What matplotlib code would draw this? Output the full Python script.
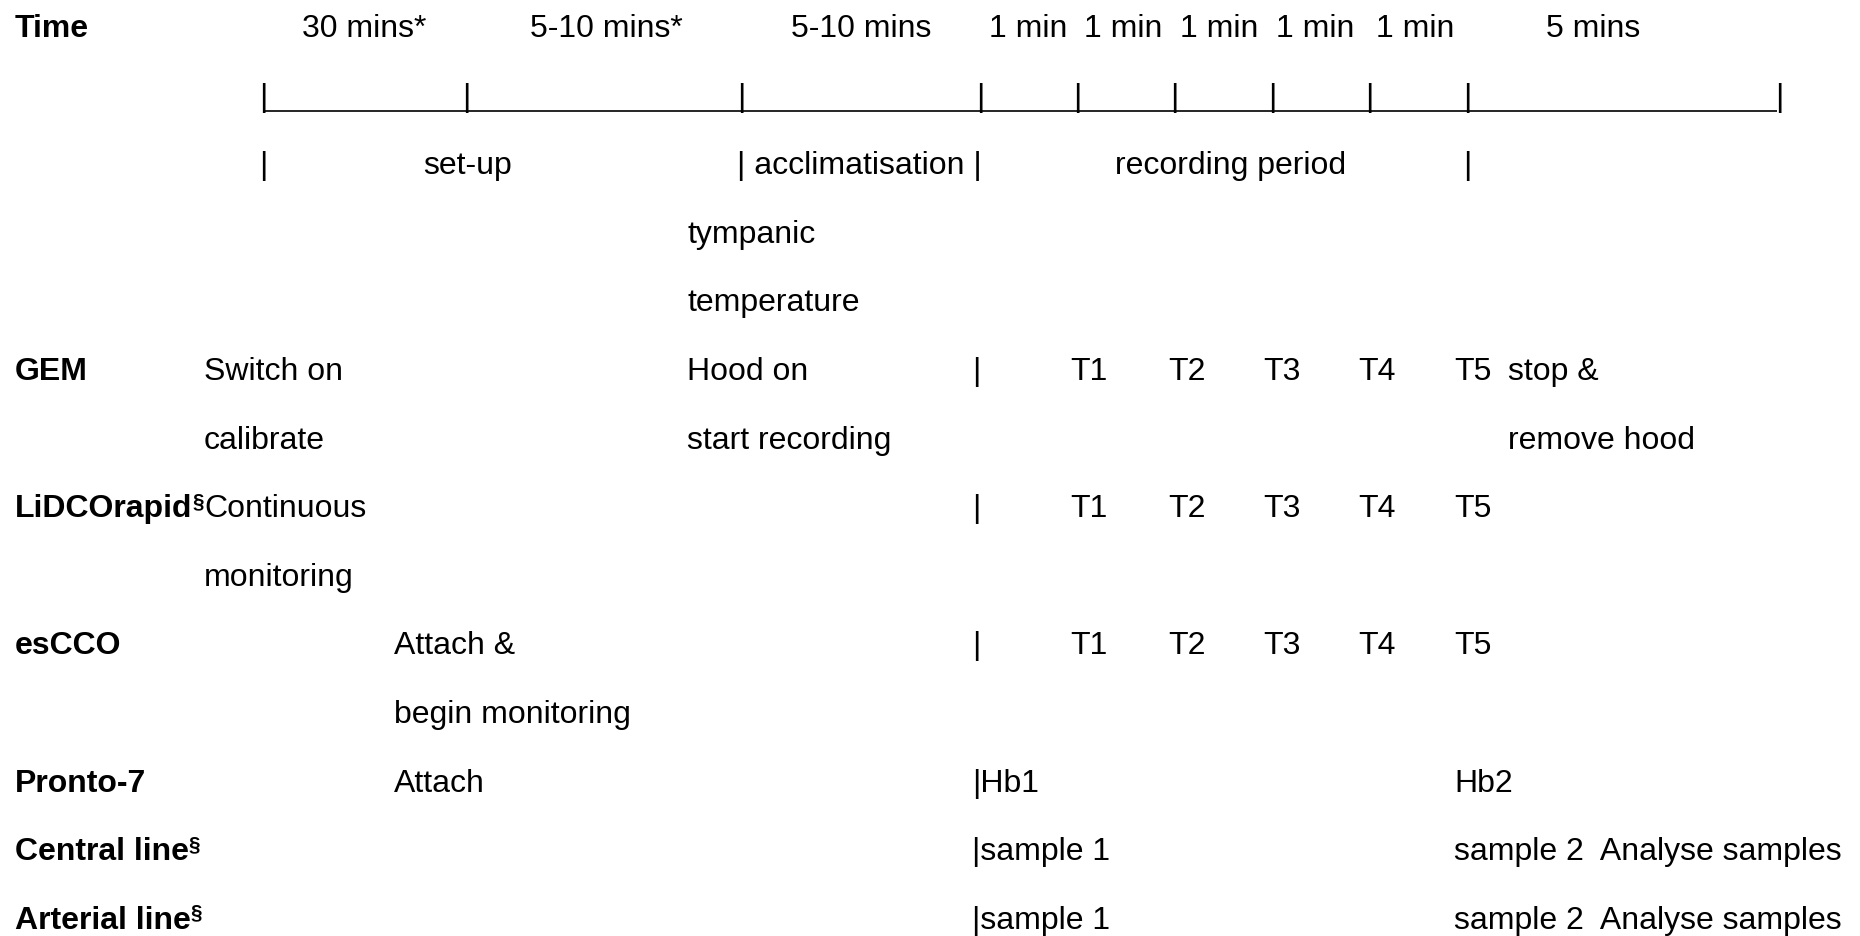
import matplotlib.pyplot as plt

plt.rcParams['font.family'] = ['Liberation Sans', 'DejaVu Sans']

# durations above the time line
time_labels = ["30 mins*", "5-10 mins*", "5-10 mins", "1 min", "1 min",
               "1 min", "1 min", "1 min", "5 mins"]
phase_labels = ["set-up", "| acclimatisation |", "recording period"]

# devices (row headers) and whether they carry the section mark
devices = ["GEM", "LiDCOrapid", "esCCO", "Pronto-7", "Central line", "Arterial line"]
section_mark = [False, True, False, False, True, True]

readings = ["T1", "T2", "T3", "T4", "T5"]

gem_setup = ["Switch on", "calibrate"]
gem_start = ["Hood on", "start recording"]
gem_end = ["stop &", "remove hood"]
temp_note = ["tympanic", "temperature"]
lidco_setup = ["Continuous", "monitoring"]
escco_setup = ["Attach &", "begin monitoring"]
pronto_events = ["Attach", "|Hb1", "Hb2"]
line_events = ["|sample 1", "sample 2  Analyse samples"]

# ---- layout (pixels of the 1860x936 picture) ----
time_x = [302, 530, 791, 989, 1084, 1180, 1276, 1376, 1546]
bar_x = [263, 466, 741, 980, 1077, 1174, 1272, 1369, 1467, 1779]
phase_x = [423, 737, 1115]
col_label = 15
col_a = 204
col_b = 394
col_c = 687
col_rec = 972
read_x = [1070, 1168, 1263, 1358, 1454]
col_end = 1508
FS = 23


def row_y(i):
    return 37 + 68.6 * i


fig = plt.figure(figsize=(18.6, 9.36), dpi=100)
ax = fig.add_axes([0, 0, 1, 1])
ax.set_xlim(0, 1860)
ax.set_ylim(936, 0)
ax.axis('off')


def put(x, row, s, bold=False, ha='left'):
    return ax.text(x, row_y(row), s, fontsize=FS, ha=ha, va='baseline',
                   fontweight='bold' if bold else 'normal', color='black')


# Time row
put(col_label, 0, "Time", bold=True)
for x, s in zip(time_x, time_labels):
    put(x, 0, s)

# time line made of bars and underscores
for x in bar_x:
    put(x, 1, "|", ha='center')
ax.hlines(row_y(1) + 5, bar_x[0] + 2, bar_x[-1] - 2, color='black', lw=1.2)

# phases
put(bar_x[0], 2, "|", ha='center')
for x, s in zip(phase_x, phase_labels):
    put(x, 2, s)
put(bar_x[8], 2, "|", ha='center')

put(col_c, 3, temp_note[0])
put(col_c, 4, temp_note[1])

# device rows
dev_rows = [5, 7, 9, 11, 12, 13]
labels = []
for r, d in zip(dev_rows, devices):
    labels.append(put(col_label, r, d, bold=True))

# GEM
put(col_a, 5, gem_setup[0])
put(col_a, 6, gem_setup[1])
put(col_c, 5, gem_start[0])
put(col_c, 6, gem_start[1])
put(col_end, 5, gem_end[0])
put(col_end, 6, gem_end[1])

# LiDCOrapid
put(col_a, 7, lidco_setup[0])
put(col_a, 8, lidco_setup[1])

# esCCO
put(col_b, 9, escco_setup[0])
put(col_b, 10, escco_setup[1])

for r in [5, 7, 9]:
    put(col_rec, r, "|")
    for x, s in zip(read_x, readings):
        put(x, r, s)

# Pronto-7
put(col_b, 11, pronto_events[0])
put(col_rec, 11, pronto_events[1])
put(read_x[-1], 11, pronto_events[2])

# central / arterial lines
for r in [12, 13]:
    put(col_rec, r, line_events[0])
    put(read_x[-1], r, line_events[1])

# superscript section marks after the labels
fig.canvas.draw()
renderer = fig.canvas.get_renderer()
inv = ax.transData.inverted()
for t, r, flag in zip(labels, dev_rows, section_mark):
    if not flag:
        continue
    bb = t.get_window_extent(renderer)
    x_end = inv.transform((bb.x1, bb.y0))[0]
    ax.text(x_end, row_y(r) - 10, "§", fontsize=15, fontweight='bold',
            ha='left', va='baseline', color='black')

fig.savefig("out.png", dpi=100, facecolor='white')
